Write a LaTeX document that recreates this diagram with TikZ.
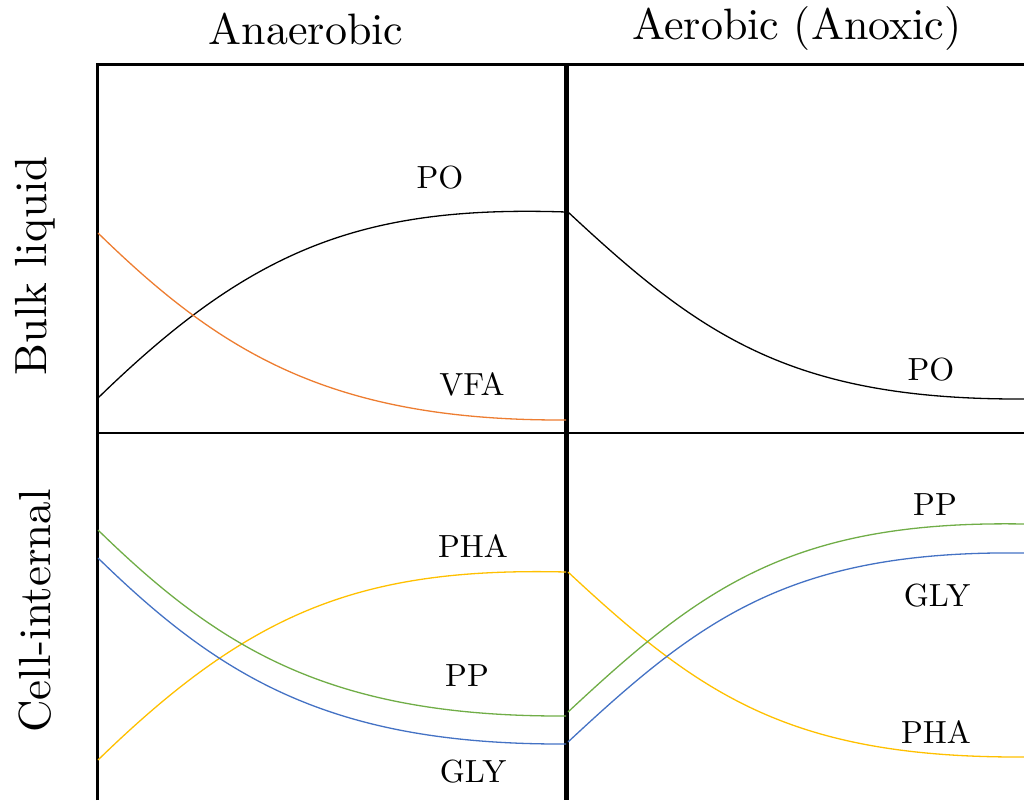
\documentclass[tikz,border=0pt]{standalone}
\usepackage{fontspec}
\newfontfamily\lmx{lmroman10-regular}[Extension=.otf]
\definecolor{cOrange}{HTML}{ED7D31}
\definecolor{cYellow}{HTML}{FFC000}
\definecolor{cGreen}{HTML}{70AD47}
\definecolor{cBlue}{HTML}{4472C4}
\tikzset{
  head/.style={inner sep=0pt, font=\lmx\fontsize{44}{48}\selectfont},
  side/.style={inner sep=0pt, rotate=90, font=\lmx\fontsize{45}{50}\selectfont},
  lab/.style={inner sep=0pt, font=\lmx\fontsize{32}{36}\selectfont},
  curve/.style={line width=1.3pt},
}
\begin{document}
\begin{tikzpicture}[x=1pt,y=-1pt]
\useasboundingbox (0,0) rectangle (1024,800);
% frame
\draw[line width=3pt] (97,800) -- (97,64) -- (1024,64);
\draw[line width=5pt] (566,64) -- (566,800);
\draw[line width=1.8pt] (97,433) -- (1024,433);
% headers
\node[head] (hA) at (306,29) {Anaerobic};
\node[head] (hB) at (797,29) {Aerobic (Anoxic)};
\node[side] (sA) at (35,266) {Bulk liquid};
\node[side] (sB) at (35,611) {Cell-internal};
% top-left
\draw[curve, black] (98,398) .. controls (250,250) and (360,205) .. (566,212);
\draw[curve, cOrange] (98,233) .. controls (220,352) and (330,421) .. (566,420);
% top-right
\draw[curve, black] (568,212) .. controls (700,335) and (790,400) .. (1024,399);
% bottom-left
\draw[curve, cYellow] (98,760) .. controls (250,612) and (360,567) .. (566,572);
\draw[curve, cGreen] (98,530) .. controls (220,649) and (330,717) .. (566,716);
\draw[curve, cBlue] (98,558) .. controls (220,677) and (330,745) .. (566,744);
% bottom-right
\draw[curve, cYellow] (568,572) .. controls (700,695) and (790,758) .. (1024,757);
\draw[curve, cGreen] (568,712) .. controls (700,589) and (790,520) .. (1024,524);
\draw[curve, cBlue] (568,742) .. controls (700,619) and (790,550) .. (1024,553);
% labels
\node[lab] (lPO1) at (440,178) {PO};
\node[lab] (lVFA) at (472,384) {VFA};
\node[lab] (lPO2) at (931,370) {PO};
\node[lab] (lPHA1) at (473,546) {PHA};
\node[lab] (lPP1) at (467,676) {PP};
\node[lab] (lGLY1) at (473,772) {GLY};
\node[lab] (lPP2) at (935,505) {PP};
\node[lab] (lGLY2) at (937,596) {GLY};
\node[lab] (lPHA2) at (936,732) {PHA};
\end{tikzpicture}
\end{document}
